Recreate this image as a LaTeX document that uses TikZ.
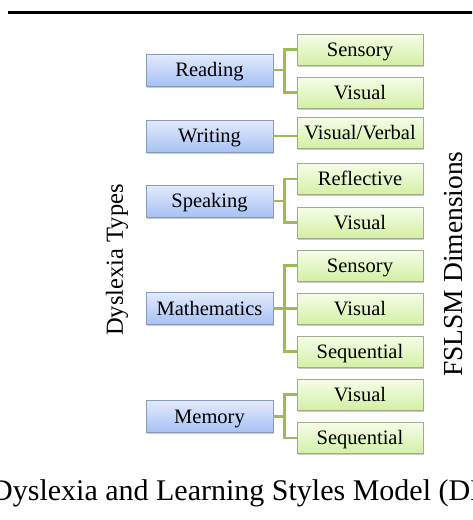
\documentclass[tikz,border=0pt]{standalone}
\usepackage{fontspec}
\setmainfont{Liberation Serif}
\usetikzlibrary{shadows}
\definecolor{typetop}{HTML}{E3EBFC}
\definecolor{typebot}{HTML}{A6C1F4}
\definecolor{typeline}{HTML}{8A9BB8}
\definecolor{dimtop}{HTML}{F6FDE9}
\definecolor{dimbot}{HTML}{D3F0A4}
\definecolor{dimline}{HTML}{A0AC8C}
\definecolor{linkgreen}{HTML}{9BBB59}
\tikzset{
	dtype/.style={draw=typeline, line width=0.8pt, top color=typetop, bottom color=typebot, minimum width=127pt, minimum height=32pt, inner sep=0pt, text height=13.5pt, text depth=0pt, font=\fontsize{20.5}{24}\selectfont, drop shadow={shadow xshift=1.2pt, shadow yshift=-1.8pt, opacity=0.35, fill=black!60}},
	fdim/.style={draw=dimline, line width=0.8pt, top color=dimtop, bottom color=dimbot, minimum width=126pt, minimum height=31pt, inner sep=0pt, text height=13.5pt, text depth=0pt, font=\fontsize{20.5}{24}\selectfont, drop shadow={shadow xshift=1.2pt, shadow yshift=-1.8pt, opacity=0.35, fill=black!60}},
	link/.style={draw=linkgreen, line width=2.5pt},
	sidelabel/.style={rotate=90, inner sep=0pt}
}

\begin{document}
\begin{tikzpicture}[x=1pt, y=-1pt]
			%%%%% START %%%%%
			\useasboundingbox (0, 0) rectangle (472, 520);
			\clip (0, 0) rectangle (472, 520);
			
			\draw[fill=black] (8, 11) rectangle (472, 13);
			
			\node[dtype] (read) at (209.5, 70) {Reading};
			\node[dtype] (writ) at (209.5, 136) {Writing};
			\node[dtype] (spea) at (209.5, 201) {Speaking};
			\node[dtype] (math) at (209.5, 308.5) {Mathematics};
			\node[dtype] (memo) at (209.5, 416.5) {Memory};
			
			\node[fdim] (readsen) at (360, 49.5) {Sensory};
			\node[fdim] (readvis) at (360, 92.5) {Visual};
			\node[fdim] (writvv) at (360, 132.5) {Visual/Verbal};
			\node[fdim] (spearef) at (360, 179) {Reflective};
			\node[fdim] (speavis) at (360, 222.5) {Visual};
			\node[fdim] (mathsen) at (360, 265.5) {Sensory};
			\node[fdim] (mathvis) at (360, 308.5) {Visual};
			\node[fdim] (mathseq) at (360, 351.5) {Sequential};
			\node[fdim] (memovis) at (360, 394.5) {Visual};
			\node[fdim] (memoseq) at (360, 438) {Sequential};
			
			\draw[link] (read.east) -- ++(11, 0) coordinate (readfork) |- (readsen.west);
			\draw[link] (readfork) |- (readvis.west);
			\draw[link] (writ.east) -- (writ.east -| writvv.west);
			\draw[link] (spea.east) -- ++(11, 0) coordinate (speafork) |- (spearef.west);
			\draw[link] (speafork) |- (speavis.west);
			\draw[link] (math.east) -- (mathvis.west);
			\draw[link] (math.east) ++(11, 0) coordinate (mathfork) |- (mathsen.west);
			\draw[link] (mathfork) |- (mathseq.west);
			\draw[link] (memo.east) -- ++(11, 0) coordinate (memofork) |- (memovis.west);
			\draw[link] (memofork) |- (memoseq.west);
			
			\node[sidelabel, font=\fontsize{24.5}{29}\selectfont] (dystypes) at (117, 260) {Dyslexia Types};
			\node[sidelabel, font=\fontsize{27.5}{32}\selectfont] (fslsmdim) at (454, 264) {FSLSM Dimensions};
			
			\node[anchor=base west, inner sep=0pt, font=\fontsize{30}{35}\selectfont] (caption) at (-9, 500) {Dyslexia and Learning Styles Model (DLSM)};
			%%%%% END %%%%%
\end{tikzpicture}
\end{document}
